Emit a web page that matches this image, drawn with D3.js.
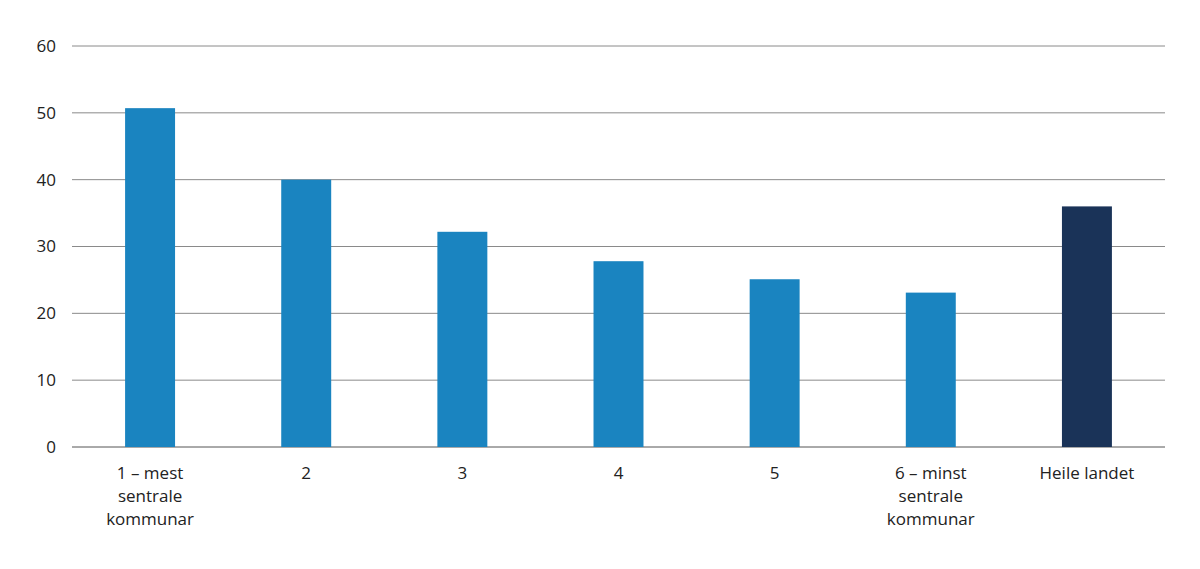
<!DOCTYPE html>
<html>
<head>
<meta charset="utf-8">
<script src="https://cdn.jsdelivr.net/npm/d3@7"></script>
<style>
  body { margin: 0; background: #fff; }
  text { font-family: "Open Sans", "DejaVu Sans", sans-serif; }
</style>
</head>
<body>
<svg id="chart"></svg>
<script>
// data
const categories = ["1 – mest sentrale kommunar", "2", "3", "4", "5", "6 – minst sentrale kommunar", "Heile landet"];
const labelLines = [["1 – mest", "sentrale", "kommunar"], ["2"], ["3"], ["4"], ["5"], ["6 – minst", "sentrale", "kommunar"], ["Heile landet"]];
const values = [50.7, 40.0, 32.2, 27.8, 25.1, 23.1, 36.0];
const yTicks = [0, 10, 20, 30, 40, 50, 60];

const width = 1200, height = 569;
const plotLeft = 72, plotRight = 1165, plotTop = 46, plotBottom = 447;

const svg = d3.select("#chart").attr("width", width).attr("height", height);

const x = d3.scaleBand().domain(categories).range([plotLeft, plotRight]).paddingInner(0.68).paddingOuter(0.34);
const y = d3.scaleLinear().domain([0, 60]).range([plotBottom, plotTop]);

// gridlines
svg.append("g").selectAll("line").data(yTicks).join("line")
    .attr("x1", plotLeft).attr("x2", plotRight)
    .attr("y1", d => y(d)).attr("y2", d => y(d))
    .attr("stroke", d => d === 0 ? "#555" : "#8a8a8a")
    .attr("stroke-width", 1);

// y labels
svg.append("g").selectAll("text").data(yTicks).join("text")
    .attr("x", 56).attr("y", d => y(d)).attr("dy", "0.35em")
    .attr("text-anchor", "end").attr("font-size", 17).attr("fill", "#222")
    .text(d => d);

// bars
svg.append("g").selectAll("rect").data(values).join("rect")
    .attr("x", (d, i) => x(categories[i]))
    .attr("width", x.bandwidth())
    .attr("y", d => y(d))
    .attr("height", d => y(0) - y(d))
    .attr("fill", (d, i) => i === categories.length - 1 ? "#1a3358" : "#1a84c0");

// x labels
const xl = svg.append("g").selectAll("text").data(categories).join("text")
    .attr("x", d => x(d) + x.bandwidth() / 2)
    .attr("y", 479)
    .attr("text-anchor", "middle").attr("font-size", 17).attr("fill", "#222");
xl.selectAll("tspan").data((d, i) => labelLines[i]).join("tspan")
    .attr("x", function() { return this.parentNode.getAttribute("x"); })
    .attr("dy", (d, j) => j === 0 ? 0 : 23)
    .text(d => d);
</script>
</body>
</html>
